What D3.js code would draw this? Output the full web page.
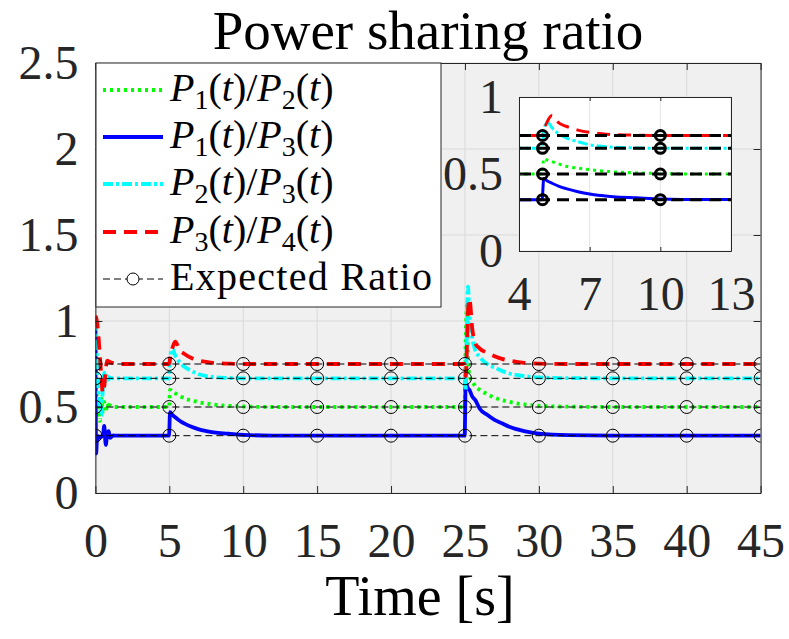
<!DOCTYPE html>
<html>
<head>
<meta charset="utf-8">
<script src="https://cdn.jsdelivr.net/npm/d3@7"></script>
<style>
body { margin: 0; background: #fff; }
svg { display: block; font-family: "Liberation Serif", "DejaVu Serif", serif; }
</style>
</head>
<body>
<svg id="chart" width="789" height="639"></svg>
<script>
// sample times [s]
var time = [0, 0.05, 0.1, 0.2, 0.3, 0.4, 0.5, 0.6, 0.7, 0.8, 0.9, 1.0, 1.2, 1.5, 2, 3, 4,
    4.98, 5.05, 5.2, 5.4, 5.7, 6.0, 6.5, 7, 7.5, 8, 9, 10, 12, 15, 20,
    24.98, 25.05, 25.15, 25.2, 25.3, 25.5, 25.7, 26, 26.5, 27, 27.5, 28, 29, 30, 32, 35, 40, 45];

var p12 = [0.95, 0.7, 0.55, 0.48, 0.42, 0.55, 0.46, 0.53, 0.47, 0.52, 0.49, 0.51, 0.5, 0.5, 0.5, 0.5, 0.5,
    0.5, 0.6, 0.59, 0.58, 0.565, 0.55, 0.538, 0.528, 0.52, 0.514, 0.507, 0.503, 0.5, 0.5, 0.5,
    0.5, 0.9, 1.1, 0.8, 0.68, 0.65, 0.62, 0.6, 0.575, 0.555, 0.54, 0.53, 0.515, 0.507, 0.502, 0.5, 0.5, 0.5];

var p13 = [0.95, 0.23, 0.3, 0.33, 0.32, 0.33, 0.33, 0.39, 0.28, 0.34, 0.36, 0.32, 0.335, 0.333, 0.333, 0.333, 0.333,
    0.333, 0.47, 0.455, 0.44, 0.42, 0.405, 0.385, 0.37, 0.36, 0.352, 0.345, 0.338, 0.334, 0.333, 0.333,
    0.333, 0.65, 0.62, 0.61, 0.6, 0.56, 0.54, 0.49, 0.455, 0.425, 0.405, 0.385, 0.36, 0.345, 0.336, 0.334, 0.333, 0.333];

var p23 = [1.0, 0.95, 0.8, 0.6, 0.5, 0.45, 0.6, 0.7, 0.65, 0.68, 0.66, 0.67, 0.667, 0.667, 0.667, 0.667, 0.667,
    0.667, 0.78, 0.84, 0.8, 0.76, 0.735, 0.71, 0.69, 0.68, 0.674, 0.669, 0.667, 0.667, 0.667, 0.667,
    0.667, 0.6, 1.05, 1.2, 1.05, 0.9, 0.83, 0.79, 0.75, 0.73, 0.71, 0.695, 0.68, 0.672, 0.668, 0.667, 0.667, 0.667];

var p34 = [1.03, 1.02, 1.0, 0.92, 0.8, 0.68, 0.58, 0.62, 0.72, 0.77, 0.765, 0.76, 0.755, 0.75, 0.75, 0.75, 0.75,
    0.75, 0.78, 0.84, 0.88, 0.83, 0.81, 0.785, 0.77, 0.762, 0.756, 0.752, 0.75, 0.75, 0.75, 0.75,
    0.75, 0.68, 0.9, 1.05, 1.13, 0.95, 0.87, 0.84, 0.815, 0.795, 0.78, 0.77, 0.757, 0.752, 0.75, 0.75, 0.75, 0.75];

var expectedRatio = [0.5, 0.3333, 0.6667, 0.75];
var markerTimes = [0, 5, 10, 15, 20, 25, 30, 35, 40, 45];
var xTicks = [0, 5, 10, 15, 20, 25, 30, 35, 40, 45];
var yTicks = [0, 0.5, 1, 1.5, 2, 2.5];
var insetXTicks = [4, 7, 10, 13];
var insetYTicks = [0, 0.5, 1];

var series = [
    {sub: ["1", "2"], values: p12, color: "#00ff00", dash: "3,4"},
    {sub: ["1", "3"], values: p13, color: "#0000ff", dash: null},
    {sub: ["2", "3"], values: p23, color: "#00ffff", dash: "10,3,3,3"},
    {sub: ["3", "4"], values: p34, color: "#ff0000", dash: "13,8"}
];

var axisColor = "#262626";
var svg = d3.select("#chart");

// main axes
var m = {left: 95.4, right: 760.6, top: 63, bottom: 493};
var x = d3.scaleLinear().domain([0, 45]).range([m.left, m.right]);
var y = d3.scaleLinear().domain([0, 2.5]).range([m.bottom, m.top]);

svg.append("text").attr("x", 428).attr("y", 49).attr("text-anchor", "middle")
    .attr("font-size", 55).attr("fill", "#000").text("Power sharing ratio");

svg.append("rect").attr("x", m.left).attr("y", m.top)
    .attr("width", m.right - m.left).attr("height", m.bottom - m.top).attr("fill", "#f0f0f0");

svg.append("clipPath").attr("id", "mainClip").append("rect")
    .attr("x", m.left).attr("y", m.top).attr("width", m.right - m.left).attr("height", m.bottom - m.top);
svg.append("clipPath").attr("id", "insetClip").append("rect")
    .attr("x", 519).attr("y", 97).attr("width", 212).attr("height", 154);

function drawGrid(g, xs, ys, xt, yt, color) {
    g.selectAll(".gx").data(xt).enter().append("line")
        .attr("x1", xs).attr("x2", xs).attr("y1", ys.range()[0]).attr("y2", ys.range()[1])
        .attr("stroke", color).attr("stroke-width", 1);
    g.selectAll(".gy").data(yt).enter().append("line")
        .attr("y1", ys).attr("y2", ys).attr("x1", xs.range()[0]).attr("x2", xs.range()[1])
        .attr("stroke", color).attr("stroke-width", 1);
}

function drawData(g, xs, ys, clipId, lw, expDash, expLw, mr, markers) {
    var line = d3.line()
        .x(function (d) { return xs(d[0]); })
        .y(function (d) { return ys(d[1]); })
        .curve(d3.curveMonotoneX);
    var lines = g.append("g").attr("clip-path", "url(#" + clipId + ")");
    series.forEach(function (s) {
        lines.append("path")
            .datum(time.map(function (t, i) { return [t, s.values[i]]; }))
            .attr("d", line)
            .attr("fill", "none")
            .attr("stroke", s.color)
            .attr("stroke-width", lw)
            .attr("stroke-dasharray", s.dash);
    });
    expectedRatio.forEach(function (r) {
        lines.append("line")
            .attr("x1", xs.range()[0]).attr("x2", xs.range()[1])
            .attr("y1", ys(r)).attr("y2", ys(r))
            .attr("stroke", "#000").attr("stroke-width", expLw).attr("stroke-dasharray", expDash);
        lines.selectAll(null).data(markers).enter().append("circle")
            .attr("cx", xs).attr("cy", ys(r)).attr("r", mr)
            .attr("fill", "none").attr("stroke", "#000").attr("stroke-width", expLw);
    });
}

drawGrid(svg.append("g"), x, y, xTicks, yTicks, "#d9d9d9");
drawData(svg.append("g"), x, y, "mainClip", 3.8, "7,4", 1, 6.5, markerTimes);

function styleAxis(g, fontSize) {
    g.select(".domain").attr("stroke", axisColor);
    g.selectAll(".tick line").attr("stroke", axisColor);
    g.selectAll("text").attr("font-size", fontSize).attr("fill", axisColor)
        .attr("font-family", "Liberation Serif, DejaVu Serif, serif");
}

var fmt = function (d) { return String(d); };

var gx = svg.append("g").attr("transform", "translate(0," + m.bottom + ")")
    .call(d3.axisBottom(x).tickValues(xTicks).tickFormat(fmt).tickSize(-7).tickSizeOuter(0));
styleAxis(gx, 48);
gx.selectAll("text").attr("y", 64).attr("dy", null);

var gy = svg.append("g").attr("transform", "translate(" + m.left + ",0)")
    .call(d3.axisLeft(y).tickValues(yTicks).tickFormat(fmt).tickSize(-7).tickSizeOuter(0));
styleAxis(gy, 48);
gy.selectAll("text").attr("x", -17).attr("dy", "0.33em");

var gt = svg.append("g").attr("transform", "translate(0," + m.top + ")")
    .call(d3.axisTop(x).tickValues(xTicks).tickFormat("").tickSize(-7).tickSizeOuter(0));
styleAxis(gt, 48);
var gr = svg.append("g").attr("transform", "translate(" + m.right + ",0)")
    .call(d3.axisRight(y).tickValues(yTicks).tickFormat("").tickSize(-7).tickSizeOuter(0));
styleAxis(gr, 48);

svg.append("text").attr("x", 420).attr("y", 615).attr("text-anchor", "middle")
    .attr("font-size", 56).attr("fill", "#000").text("Time [s]");

// legend
var lg = svg.append("g");
lg.append("rect").attr("x", 96).attr("y", 63).attr("width", 345).attr("height", 244)
    .attr("fill", "#fff").attr("stroke", axisColor).attr("stroke-width", 1);
var rowY = [90, 137, 184, 232, 279];

function mathLabel(text, a, b) {
    [a, b].forEach(function (n, i) {
        text.append("tspan").style("font-style", "italic").text("P");
        text.append("tspan").attr("font-size", "0.7em").attr("dy", 8).text(n);
        text.append("tspan").attr("dy", -8).text("(");
        text.append("tspan").style("font-style", "italic").text("t");
        text.append("tspan").text(i === 0 ? ")/" : ")");
    });
}

series.forEach(function (s, i) {
    lg.append("line").attr("x1", 103).attr("x2", 163).attr("y1", rowY[i]).attr("y2", rowY[i])
        .attr("stroke", s.color).attr("stroke-width", 3.8).attr("stroke-dasharray", s.dash);
    var t = lg.append("text").attr("x", 170).attr("y", rowY[i] + 11)
        .attr("font-size", 40).attr("fill", "#000");
    mathLabel(t, s.sub[0], s.sub[1]);
});
lg.append("line").attr("x1", 103).attr("x2", 163).attr("y1", rowY[4]).attr("y2", rowY[4])
    .attr("stroke", "#000").attr("stroke-width", 1).attr("stroke-dasharray", "7,4");
lg.append("circle").attr("cx", 133).attr("cy", rowY[4]).attr("r", 6)
    .attr("fill", "#fff").attr("stroke", "#000").attr("stroke-width", 1);
lg.append("text").attr("x", 170).attr("y", rowY[4] + 11).attr("font-size", 40)
    .attr("textLength", 262).attr("lengthAdjust", "spacing")
    .attr("fill", "#000").text("Expected Ratio");

// inset
var ix = d3.scaleLinear().domain([4, 13]).range([519, 731]);
var iy = d3.scaleLinear().domain([0, 1]).range([251, 97]);
var ig = svg.append("g");
ig.append("rect").attr("x", 519).attr("y", 97).attr("width", 212).attr("height", 154).attr("fill", "#fff");
drawGrid(ig.append("g"), ix, iy, insetXTicks, insetYTicks, "#e3e3e3");
drawData(ig.append("g"), ix, iy, "insetClip", 3, "12,7", 3, 5, markerTimes);

var igx = ig.append("g").attr("transform", "translate(0,251)")
    .call(d3.axisBottom(ix).tickValues(insetXTicks).tickFormat(fmt).tickSize(-4).tickSizeOuter(0));
styleAxis(igx, 48);
igx.selectAll("text").attr("y", 59).attr("dy", null);
var igy = ig.append("g").attr("transform", "translate(519,0)")
    .call(d3.axisLeft(iy).tickValues(insetYTicks).tickFormat(fmt).tickSize(-4).tickSizeOuter(0));
styleAxis(igy, 48);
igy.selectAll("text").attr("x", -16).attr("dy", "0.33em");
var igt = ig.append("g").attr("transform", "translate(0,97)")
    .call(d3.axisTop(ix).tickValues(insetXTicks).tickFormat("").tickSize(-4).tickSizeOuter(0));
styleAxis(igt, 48);
var igr = ig.append("g").attr("transform", "translate(731,0)")
    .call(d3.axisRight(iy).tickValues(insetYTicks).tickFormat("").tickSize(-4).tickSizeOuter(0));
styleAxis(igr, 48);
</script>
</body>
</html>
